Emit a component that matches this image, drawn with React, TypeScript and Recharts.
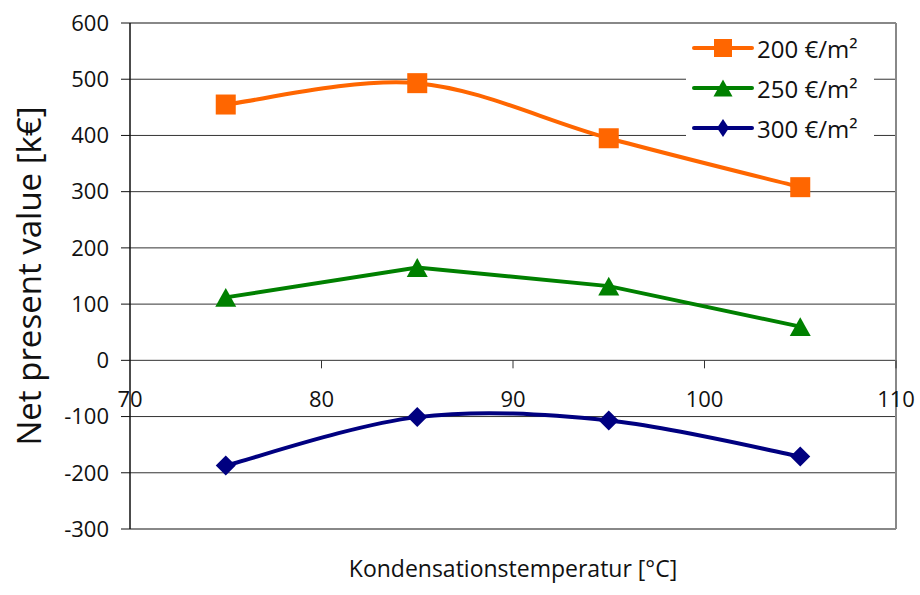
import React from 'react';
import { LineChart, Line, XAxis, YAxis, CartesianGrid, ReferenceLine, Legend, Label } from 'recharts';

const temperatures = [75, 85, 95, 105];
const npv200 = [455, 493, 395, 308];
const npv250 = [112, 165, 132, 60];
const npv300 = [-187, -101, -107, -171];
const xTicks = [70, 80, 90, 100, 110];
const yTicks = [-300, -200, -100, 0, 100, 200, 300, 400, 500, 600];
const seriesNames = ['200 €/m²', '250 €/m²', '300 €/m²'];

const data = temperatures.map((t, i) => ({ t, a: npv200[i], b: npv250[i], c: npv300[i] }));

const W = 920;
const H = 595;
const M_TOP = 23;
const X_AXIS_H = 66;
const PLOT_H = H - M_TOP - X_AXIS_H;
const Y_MIN = -300;
const Y_MAX = 600;
const ZERO_UP = (PLOT_H * (0 - Y_MIN)) / (Y_MAX - Y_MIN);

const FONT = '"Open Sans", "Noto Sans", sans-serif';
const ORANGE = '#FF6600';
const GREEN = '#008000';
const NAVY = '#000080';

function excelCurve(context: any) {
  let pts: number[][] = [];
  return {
    areaStart() {},
    areaEnd() {},
    lineStart() {
      pts = [];
    },
    lineEnd() {
      const n = pts.length;
      if (!n) return;
      context.moveTo(pts[0][0], pts[0][1]);
      for (let i = 0; i < n - 1; i++) {
        const p0 = pts[Math.max(i - 1, 0)];
        const p1 = pts[i];
        const p2 = pts[i + 1];
        const p3 = pts[Math.min(i + 2, n - 1)];
        context.bezierCurveTo(
          p1[0] + (p2[0] - p0[0]) / 6,
          p1[1] + (p2[1] - p0[1]) / 6,
          p2[0] - (p3[0] - p1[0]) / 6,
          p2[1] - (p3[1] - p1[1]) / 6,
          p2[0],
          p2[1]
        );
      }
    },
    point(x: number, y: number) {
      pts.push([+x, +y]);
    },
  };
}

const Square = (props: any) => {
  const { cx, cy, s = 20 } = props;
  return <rect x={cx - s / 2} y={cy - s / 2} width={s} height={s} fill={ORANGE} />;
};
const Triangle = (props: any) => {
  const { cx, cy, s = 21 } = props;
  const h = s * 0.9;
  return <path d={`M${cx},${cy - h / 2}L${cx + s / 2},${cy + h / 2}L${cx - s / 2},${cy + h / 2}Z`} fill={GREEN} />;
};
const Diamond = (props: any) => {
  const { cx, cy, w = 20, h = 20 } = props;
  return <path d={`M${cx},${cy - h / 2}L${cx + w / 2},${cy}L${cx},${cy + h / 2}L${cx - w / 2},${cy}Z`} fill={NAVY} />;
};

const XTick = (props: any) => {
  const { x, y, payload } = props;
  const y0 = y - ZERO_UP;
  return (
    <g>
      {payload.value !== 70 && <line x1={x} x2={x} y1={y0} y2={y0 + 8} stroke="#333" strokeWidth={1} />}
      <text x={x} y={y0 + 47} textAnchor="middle" fontSize={22} fontFamily={FONT} fill="#111">
        {payload.value}
      </text>
    </g>
  );
};

const legendItems = [
  { name: seriesNames[0], color: ORANGE, Marker: Square, mp: { s: 18 } },
  { name: seriesNames[1], color: GREEN, Marker: Triangle, mp: { s: 19 } },
  { name: seriesNames[2], color: NAVY, Marker: Diamond, mp: { w: 12, h: 18 } },
];

const LegendContent = () => (
  <div style={{ background: '#fff', width: 188, height: 118 }}>
    <svg width={188} height={118} style={{ display: 'block' }}>
      {legendItems.map((it, i) => {
        const cy = 18 + i * 40;
        const M = it.Marker;
        return (
          <g key={it.name}>
            <line x1={8} x2={66} y1={cy} y2={cy} stroke={it.color} strokeWidth={4} strokeLinecap="round" />
            <M cx={37} cy={cy} {...it.mp} />
            <text x={71} y={cy} dominantBaseline="central" fontSize={24} fontFamily={FONT} fill="#111">
              {it.name}
            </text>
          </g>
        );
      })}
    </svg>
  </div>
);

export default function App() {
  return (
    <div style={{ position: 'absolute', left: 0, top: 0, width: W, height: H, background: '#fff' }}>
      <LineChart width={W} height={H} data={data} margin={{ top: M_TOP, right: 24, bottom: 0, left: 0 }}>
        <CartesianGrid vertical={false} stroke="#333" strokeWidth={1} />
        <ReferenceLine y={600} stroke="#888" strokeWidth={2} />
        <ReferenceLine y={-300} stroke="#888" strokeWidth={2} />
        <ReferenceLine x={110} stroke="#888" strokeWidth={2} />
        <XAxis
          dataKey="t"
          type="number"
          domain={[70, 110]}
          ticks={xTicks}
          height={X_AXIS_H}
          axisLine={false}
          tickLine={false}
          tickSize={0}
          tickMargin={0}
          tick={<XTick />}
          interval={0}
        >
          <Label
            content={(p: any) => {
              const vb = p.viewBox;
              return (
                <text x={vb.x + vb.width / 2} y={vb.y + 48} textAnchor="middle" fontSize={23} fontFamily={FONT} fill="#111">
                  Kondensationstemperatur [°C]
                </text>
              );
            }}
          />
        </XAxis>
        <YAxis
          type="number"
          domain={[Y_MIN, Y_MAX]}
          ticks={yTicks}
          width={130}
          interval={0}
          axisLine={{ stroke: '#111', strokeWidth: 1.5 }}
          tickLine={{ stroke: '#111' }}
          tickSize={9}
          tickMargin={12}
          tick={{ fontSize: 22, fontFamily: FONT, fill: '#111' }}
        >
          <Label
            content={(p: any) => {
              const vb = p.viewBox;
              const cy = vb.y + vb.height / 2;
              return (
                <text
                  x={28}
                  y={cy}
                  transform={`rotate(-90 28 ${cy})`}
                  textAnchor="middle"
                  dominantBaseline="central"
                  fontSize={33}
                  fontFamily={FONT}
                  fill="#111"
                >
                  Net present value [k€]
                </text>
              );
            }}
          />
        </YAxis>
        <Legend
          content={<LegendContent />}
          layout="horizontal"
          verticalAlign="middle"
          align="center"
          wrapperStyle={{ position: 'absolute', left: 686, top: 30, width: 188, height: 118 }}
        />
        <Line
          dataKey="a"
          name={seriesNames[0]}
          type={excelCurve as any}
          stroke={ORANGE}
          strokeWidth={4}
          dot={(p: any) => <Square key={p.key ?? p.index} cx={p.cx} cy={p.cy} />}
          activeDot={false}
          isAnimationActive={false}
        />
        <Line
          dataKey="b"
          name={seriesNames[1]}
          type="linear"
          stroke={GREEN}
          strokeWidth={4}
          dot={(p: any) => <Triangle key={p.key ?? p.index} cx={p.cx} cy={p.cy} />}
          activeDot={false}
          isAnimationActive={false}
        />
        <Line
          dataKey="c"
          name={seriesNames[2]}
          type={excelCurve as any}
          stroke={NAVY}
          strokeWidth={4}
          dot={(p: any) => <Diamond key={p.key ?? p.index} cx={p.cx} cy={p.cy} />}
          activeDot={false}
          isAnimationActive={false}
        />
      </LineChart>
    </div>
  );
}
